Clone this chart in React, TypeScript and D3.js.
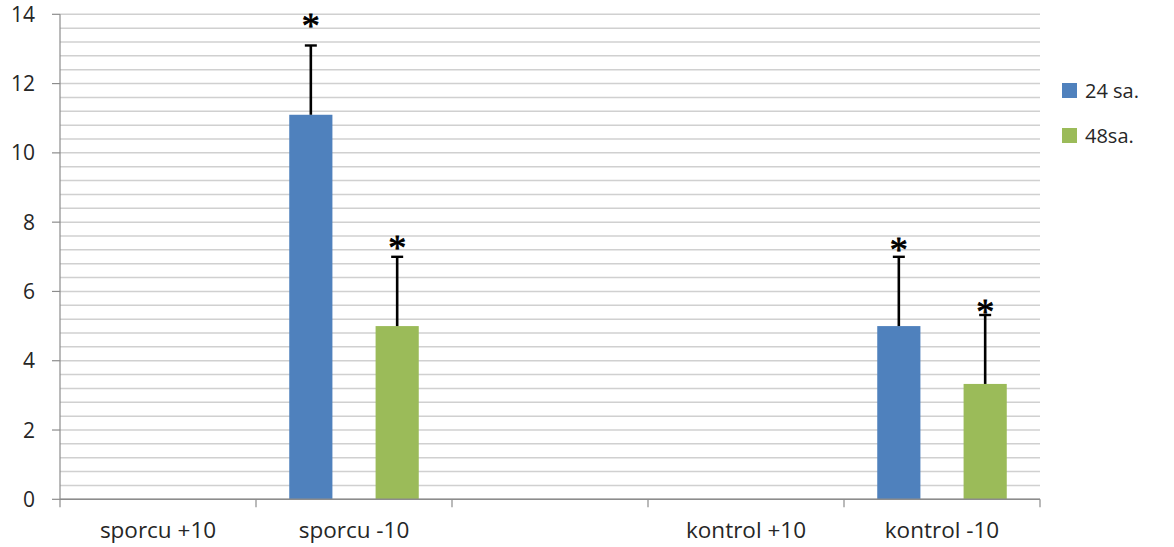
import React from "react";
import * as d3 from "d3";

const categories = ["sporcu +10", "sporcu -10", "", "kontrol +10", "kontrol -10"];
const seriesNames = ["24 sa.", "48sa."];
const seriesColors = ["#4F81BD", "#9BBB59"];
// values per category: [24 sa., 48sa.] (null = no bar)
const values24: (number | null)[] = [null, 11.1, null, null, 5.0];
const values48: (number | null)[] = [null, 5.0, null, null, 3.33];
const errTop24: (number | null)[] = [null, 13.1, null, null, 7.0];
const errTop48: (number | null)[] = [null, 7.0, null, null, 5.32];
const star24: (number | null)[] = [null, 13.8, null, null, 7.33];
const star48: (number | null)[] = [null, 7.4, null, null, 5.55];
const yTicks = [0, 2, 4, 6, 8, 10, 12, 14];

const W = 1174;
const H = 547;
const left = 60;
const right = 1040;
const top = 14.3;
const bottom = 499.3;
const font = "'Open Sans', sans-serif";
const textColor = "#262626";

export default function App() {
  const x0 = d3.scaleBand<string>().domain(categories.map((c, i) => String(i))).range([left, right]).padding(0);
  const x1 = d3.scaleBand<string>().domain(seriesNames).range([0, x0.bandwidth()]).paddingInner(0.5).paddingOuter(0.385);
  const y = d3.scaleLinear().domain([0, 14]).range([bottom, top]);
  const minor = d3.range(0, 14.0001, 0.4);

  const series = [
    { name: seriesNames[0], color: seriesColors[0], vals: values24, err: errTop24, star: star24 },
    { name: seriesNames[1], color: seriesColors[1], vals: values48, err: errTop48, star: star48 },
  ];

  const boundaries = d3.range(categories.length + 1).map((i) => left + i * x0.step());

  return (
    <svg width={W} height={H} style={{ position: "absolute", left: 0, top: 0, background: "#fff" }}>
      <rect width={W} height={H} fill="#fff" />
      {/* gridlines */}
      {minor.map((v, i) => (
        <line key={i} x1={left} x2={right} y1={y(v)} y2={y(v)} stroke="#d0d0d0" strokeWidth={1.5} />
      ))}
      {/* y axis */}
      <line x1={left} x2={left} y1={top} y2={bottom} stroke="#8c8c8c" strokeWidth={1.2} />
      {yTicks.map((t) => (
        <g key={t}>
          <line x1={left - 8} x2={left} y1={y(t)} y2={y(t)} stroke="#8c8c8c" strokeWidth={1.2} />
          <text x={35} y={y(t)} dy="0.36em" textAnchor="end" fontFamily={font} fontSize={21} fill={textColor}>
            {t}
          </text>
        </g>
      ))}
      {/* bars */}
      {series.map((s) =>
        categories.map((c, i) => {
          const v = s.vals[i];
          if (v == null) return null;
          const bx = (x0(String(i)) as number) + (x1(s.name) as number);
          const bw = x1.bandwidth();
          const cx = bx + bw / 2;
          const e = s.err[i] as number;
          const st = s.star[i] as number;
          return (
            <g key={s.name + i}>
              <rect x={bx} y={y(v)} width={bw} height={y(0) - y(v)} fill={s.color} />
              <line x1={cx} x2={cx} y1={y(v)} y2={y(e)} stroke="#000" strokeWidth={2.6} />
              <line x1={cx - 6} x2={cx + 6} y1={y(e)} y2={y(e)} stroke="#000" strokeWidth={2.4} />
              <text x={cx} y={y(st) + 17} textAnchor="middle" fontFamily="'Liberation Serif', serif" fontSize={36} fill="#000" stroke="#000" strokeWidth={0.8}>
                *
              </text>
            </g>
          );
        })
      )}
      {/* x axis */}
      <line x1={left} x2={right} y1={bottom} y2={bottom} stroke="#8c8c8c" strokeWidth={1.4} />
      {boundaries.map((b, i) => (
        <line key={i} x1={b} x2={b} y1={bottom} y2={bottom + 8} stroke="#8c8c8c" strokeWidth={1.2} />
      ))}
      {categories.map((c, i) => (
        <text key={i} x={(x0(String(i)) as number) + x0.bandwidth() / 2} y={538} textAnchor="middle" fontFamily={font} fontSize={22.5} fill={textColor}>
          {c}
        </text>
      ))}
      {/* legend */}
      {series.map((s, i) => (
        <g key={s.name} transform={`translate(1062, ${83 + i * 45})`}>
          <rect width={15} height={15} fill={s.color} />
          <text x={23} y={15} fontFamily={font} fontSize={20} fill={textColor}>
            {s.name}
          </text>
        </g>
      ))}
    </svg>
  );
}
